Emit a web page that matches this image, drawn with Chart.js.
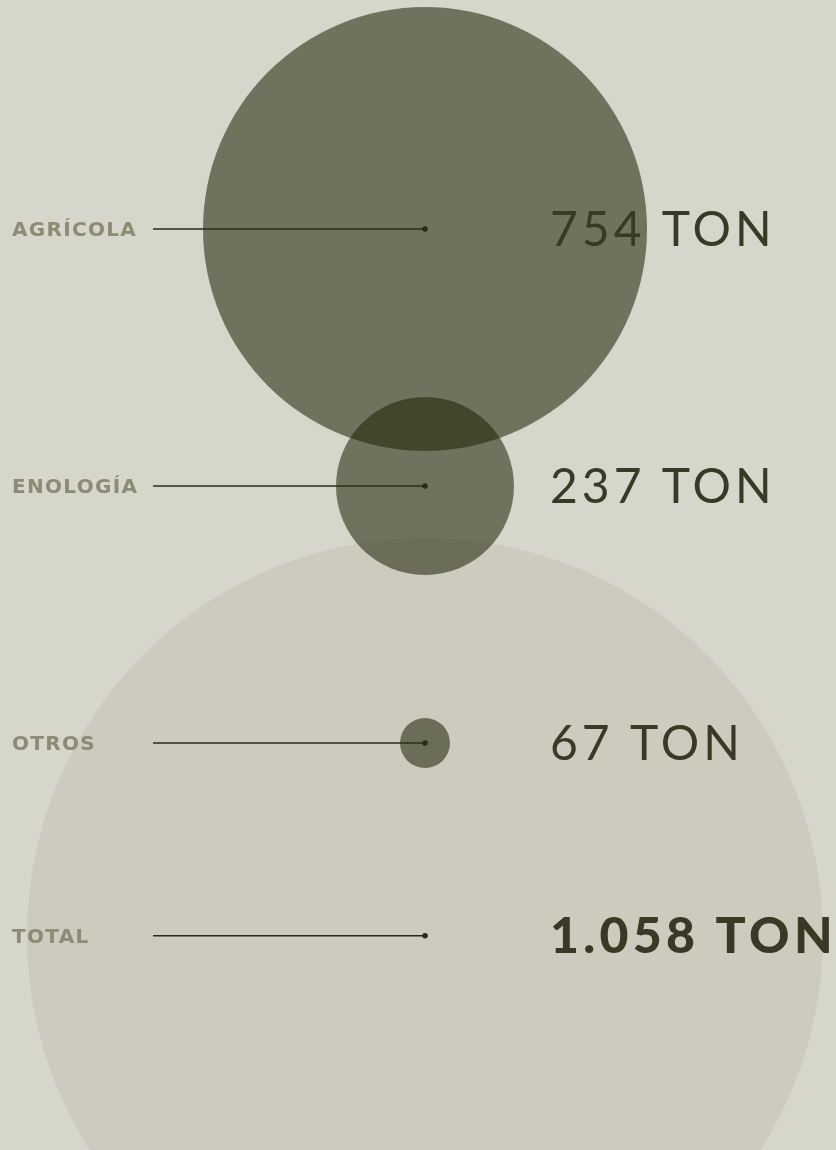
<!DOCTYPE html>
<html>
<head>
<meta charset="utf-8">
<script src="https://cdn.jsdelivr.net/npm/chart.js@4"></script>
<style>
  html, body { margin: 0; padding: 0; background: #d6d6ca; }
  #wrap { width: 836px; height: 1150px; position: relative; }
</style>
</head>
<body>
<div id="wrap"><canvas id="residuos"></canvas></div>
<script>
// data
const categories = ['AGRÍCOLA', 'ENOLOGÍA', 'OTROS', 'TOTAL'];
const tons = [754, 237, 67, 1058];
const valueLabels = ['754 TON', '237 TON', '67 TON', '1.058 TON'];
const rows = [0, 1, 2, 2.75];           // vertical slot of each row
const bubbleRadius = [222, 89, 25, 398]; // as drawn in the reference

const ink = '#393a25';
const labelGrey = '#8b8c73';
const bubbleFill = 'rgba(30, 32, 5, 0.55)';
const totalFill = '#cccbbd';

// total goes first so it ends up under the others
const order = [3, 0, 1, 2];
const points = order.map(i => ({ x: 0, y: rows[i], r: bubbleRadius[i], v: tons[i] }));
const fills = order.map(i => i === 3 ? totalFill : bubbleFill);

const annotate = {
    id: 'annotate',
    afterDatasetsDraw(chart) {
        const ctx = chart.ctx;
        const xs = chart.scales.x, ys = chart.scales.y;
        const cx = xs.getPixelForValue(0);
        ctx.save();
        categories.forEach((name, i) => {
            const y = ys.getPixelForValue(rows[i]);
            const isTotal = i === categories.length - 1;

            // leader line + dot
            ctx.strokeStyle = '#2a2b1c';
            ctx.lineWidth = 1.5;
            ctx.beginPath();
            ctx.moveTo(153, y);
            ctx.lineTo(cx, y);
            ctx.stroke();
            ctx.fillStyle = '#2a2b1c';
            ctx.beginPath();
            ctx.arc(cx, y, 2.8, 0, Math.PI * 2);
            ctx.fill();

            // category label
            ctx.fillStyle = labelGrey;
            ctx.font = 'bold 20px "DejaVu Sans"';
            ctx.letterSpacing = '1.3px';
            ctx.textBaseline = 'middle';
            ctx.textAlign = 'left';
            ctx.fillText(name, 12, y + 2);

            // value
            ctx.fillStyle = ink;
            if (isTotal) {
                ctx.font = '900 50px Lato';
                ctx.letterSpacing = '4.3px';
            } else {
                ctx.font = '400 48px Lato';
                ctx.letterSpacing = '4px';
            }
            ctx.textBaseline = 'alphabetic';
            ctx.fillText(valueLabels[i], 550, y + 17);
        });
        ctx.restore();
    }
};

new Chart(document.getElementById('residuos'), {
    type: 'bubble',
    data: {
        datasets: [{
            data: points,
            backgroundColor: fills,
            borderWidth: 0,
            hoverBorderWidth: 0,
            clip: false
        }]
    },
    options: {
        responsive: true,
        maintainAspectRatio: false,
        animation: false,
        layout: { padding: 0, autoPadding: false },
        plugins: {
            legend: { display: false },
            tooltip: { enabled: false }
        },
        events: [],
        scales: {
            x: { type: 'linear', display: false, min: -425, max: 411 },
            y: { type: 'linear', display: false, reverse: true, min: -229 / 257, max: (1150 - 229) / 257 }
        }
    },
    plugins: [annotate]
});
</script>
</body>
</html>
